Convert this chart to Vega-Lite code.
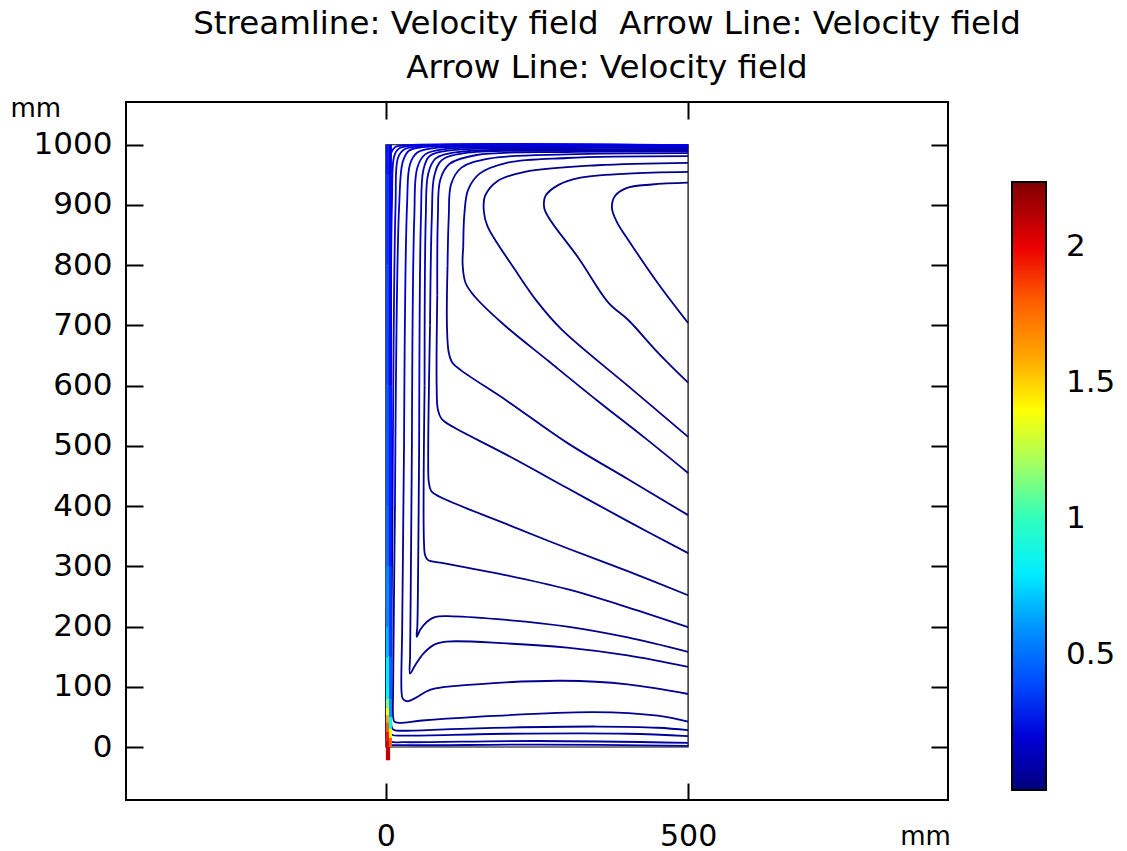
{
  "$schema": "https://vega.github.io/schema/vega-lite/v6.json",
  "width": 822,
  "height": 698,
  "autosize": {"type": "none"},
  "padding": {"left": 126, "top": 102, "right": 179, "bottom": 51},
  "background": "white",
  "title": {
    "text": ["Streamline: Velocity field\u00a0 Arrow Line: Velocity field", "Arrow Line: Velocity field"],
    "font": "DejaVu Sans", "fontSize": 32.5, "fontWeight": "normal", "color": "black",
    "anchor": "middle", "frame": "group", "dx": 70, "dy": 32, "offset": 10, "lineHeight": 44, "baseline": "bottom"
  },
  "config": {
    "view": {"stroke": "black", "strokeWidth": 2},
    "font": "DejaVu Sans",
    "axis": {"labelFont": "DejaVu Sans", "titleFont": "DejaVu Sans", "labelColor": "black", "titleColor": "black", "tickColor": "black", "grid": false, "domain": false}
  },
  "datasets": {
    "outline": [{"x0": 0, "x1": 500, "y0": 0, "y1": 1000}],
    "jet": [
      {"x0": 0, "x1": 5, "y0": 950, "y1": 1000, "v": 0.3},
      {"x0": 0, "x1": 5, "y0": 800, "y1": 950, "v": 0.35},
      {"x0": 0, "x1": 5, "y0": 600, "y1": 800, "v": 0.4},
      {"x0": 0, "x1": 5, "y0": 400, "y1": 600, "v": 0.45},
      {"x0": 0, "x1": 5, "y0": 300, "y1": 400, "v": 0.5},
      {"x0": 0, "x1": 5, "y0": 200, "y1": 300, "v": 0.58},
      {"x0": 0, "x1": 5, "y0": 150, "y1": 200, "v": 0.68},
      {"x0": 0, "x1": 5, "y0": 100, "y1": 150, "v": 0.8},
      {"x0": 0, "x1": 5, "y0": 80, "y1": 100, "v": 0.95},
      {"x0": 0, "x1": 5, "y0": 65, "y1": 80, "v": 1.15},
      {"x0": 0, "x1": 5, "y0": 52, "y1": 65, "v": 1.4},
      {"x0": 0, "x1": 5, "y0": 40, "y1": 52, "v": 1.6},
      {"x0": 0, "x1": 5, "y0": 25, "y1": 40, "v": 1.8},
      {"x0": 0, "x1": 5, "y0": 10, "y1": 25, "v": 1.95},
      {"x0": 0, "x1": 5, "y0": 0, "y1": 10, "v": 2.05},
      {"x0": 5, "x1": 10, "y0": 950, "y1": 1000, "v": 0.22},
      {"x0": 5, "x1": 10, "y0": 600, "y1": 950, "v": 0.25},
      {"x0": 5, "x1": 10, "y0": 300, "y1": 600, "v": 0.3},
      {"x0": 5, "x1": 10, "y0": 150, "y1": 300, "v": 0.35},
      {"x0": 5, "x1": 10, "y0": 80, "y1": 150, "v": 0.45},
      {"x0": 5, "x1": 10, "y0": 50, "y1": 80, "v": 0.6},
      {"x0": 5, "x1": 10, "y0": 30, "y1": 50, "v": 0.9},
      {"x0": 5, "x1": 10, "y0": 15, "y1": 30, "v": 1.4},
      {"x0": 5, "x1": 10, "y0": 0, "y1": 15, "v": 1.8},
      {"x0": 0, "x1": 7, "y0": -22, "y1": 0, "v": 2.1}
    ],
    "lines": [
      {"s":"L1","o":0,"x":500,"y":704,"v":0.03},{"s":"L1","o":1,"x":450,"y":770,"v":0.03},{"s":"L1","o":2,"x":401,"y":842,"v":0.03},{"s":"L1","o":3,"x":382,"y":872,"v":0.03},{"s":"L1","o":4,"x":374,"y":895,"v":0.03},{"s":"L1","o":5,"x":379,"y":915,"v":0.03},{"s":"L1","o":6,"x":398,"y":928,"v":0.03},{"s":"L1","o":7,"x":440,"y":934,"v":0.03},{"s":"L1","o":8,"x":500,"y":937,"v":0.03},
      {"s":"L2","o":0,"x":500,"y":955,"v":0.03},{"s":"L2","o":1,"x":400,"y":952,"v":0.03},{"s":"L2","o":2,"x":320,"y":945,"v":0.03},{"s":"L2","o":3,"x":285,"y":933,"v":0.03},{"s":"L2","o":4,"x":264,"y":915,"v":0.03},{"s":"L2","o":5,"x":262,"y":895,"v":0.03},{"s":"L2","o":6,"x":270,"y":878,"v":0.03},{"s":"L2","o":7,"x":320,"y":810,"v":0.03},{"s":"L2","o":8,"x":368,"y":738,"v":0.03},{"s":"L2","o":9,"x":401,"y":709,"v":0.03},{"s":"L2","o":10,"x":450,"y":655,"v":0.03},{"s":"L2","o":11,"x":500,"y":605,"v":0.03},
      {"s":"L3","o":0,"x":500,"y":970,"v":0.03},{"s":"L3","o":1,"x":350,"y":966,"v":0.03},{"s":"L3","o":2,"x":230,"y":955,"v":0.03},{"s":"L3","o":3,"x":185,"y":940,"v":0.03},{"s":"L3","o":4,"x":164,"y":915,"v":0.03},{"s":"L3","o":5,"x":162,"y":890,"v":0.03},{"s":"L3","o":6,"x":168,"y":865,"v":0.03},{"s":"L3","o":7,"x":214,"y":792,"v":0.03},{"s":"L3","o":8,"x":250,"y":740,"v":0.03},{"s":"L3","o":9,"x":291,"y":693,"v":0.03},{"s":"L3","o":10,"x":400,"y":600,"v":0.03},{"s":"L3","o":11,"x":500,"y":515,"v":0.03},
      {"s":"L4a","o":0,"x":500,"y":981,"v":0.07},{"s":"L4a","o":1,"x":300,"y":978,"v":0.07},{"s":"L4a","o":2,"x":200,"y":970,"v":0.07},{"s":"L4a","o":3,"x":155,"y":952,"v":0.07},{"s":"L4a","o":4,"x":136,"y":925,"v":0.07},{"s":"L4a","o":5,"x":130,"y":887,"v":0.07},{"s":"L4a","o":6,"x":128,"y":830,"v":0.07},
      {"s":"L4b","o":0,"x":128,"y":830,"v":0.03},{"s":"L4b","o":1,"x":127,"y":800,"v":0.03},{"s":"L4b","o":2,"x":132,"y":770,"v":0.03},{"s":"L4b","o":3,"x":147,"y":748,"v":0.03},{"s":"L4b","o":4,"x":192,"y":704,"v":0.03},{"s":"L4b","o":5,"x":270,"y":640,"v":0.03},{"s":"L4b","o":6,"x":350,"y":575,"v":0.03},{"s":"L4b","o":7,"x":430,"y":512,"v":0.03},{"s":"L4b","o":8,"x":500,"y":455,"v":0.03},
      {"s":"L5a","o":0,"x":500,"y":986,"v":0.1},{"s":"L5a","o":1,"x":300,"y":984,"v":0.1},{"s":"L5a","o":2,"x":170,"y":977,"v":0.1},{"s":"L5a","o":3,"x":125,"y":962,"v":0.1},{"s":"L5a","o":4,"x":108,"y":935,"v":0.1},{"s":"L5a","o":5,"x":104,"y":880,"v":0.1},{"s":"L5a","o":6,"x":102,"y":800,"v":0.1},
      {"s":"L5b","o":0,"x":102,"y":800,"v":0.04},{"s":"L5b","o":1,"x":101,"y":700,"v":0.04},{"s":"L5b","o":2,"x":104,"y":655,"v":0.04},{"s":"L5b","o":3,"x":110,"y":638,"v":0.04},{"s":"L5b","o":4,"x":125,"y":625,"v":0.04},{"s":"L5b","o":5,"x":200,"y":575,"v":0.04},{"s":"L5b","o":6,"x":300,"y":505,"v":0.04},{"s":"L5b","o":7,"x":400,"y":445,"v":0.04},{"s":"L5b","o":8,"x":500,"y":385,"v":0.04},
      {"s":"L6a","o":0,"x":500,"y":989,"v":0.1},{"s":"L6a","o":1,"x":300,"y":988,"v":0.1},{"s":"L6a","o":2,"x":150,"y":983,"v":0.1},{"s":"L6a","o":3,"x":105,"y":968,"v":0.1},{"s":"L6a","o":4,"x":90,"y":942,"v":0.1},{"s":"L6a","o":5,"x":86,"y":880,"v":0.1},{"s":"L6a","o":6,"x":85,"y":750,"v":0.1},
      {"s":"L6b","o":0,"x":85,"y":750,"v":0.04},{"s":"L6b","o":1,"x":84,"y":600,"v":0.04},{"s":"L6b","o":2,"x":86,"y":560,"v":0.04},{"s":"L6b","o":3,"x":92,"y":545,"v":0.04},{"s":"L6b","o":4,"x":105,"y":535,"v":0.04},{"s":"L6b","o":5,"x":200,"y":485,"v":0.04},{"s":"L6b","o":6,"x":300,"y":430,"v":0.04},{"s":"L6b","o":7,"x":400,"y":375,"v":0.04},{"s":"L6b","o":8,"x":500,"y":322,"v":0.04},
      {"s":"L7a","o":0,"x":500,"y":991,"v":0.12},{"s":"L7a","o":1,"x":300,"y":990,"v":0.12},{"s":"L7a","o":2,"x":130,"y":986,"v":0.12},{"s":"L7a","o":3,"x":92,"y":974,"v":0.12},{"s":"L7a","o":4,"x":80,"y":948,"v":0.12},{"s":"L7a","o":5,"x":76,"y":880,"v":0.12},{"s":"L7a","o":6,"x":73,"y":700,"v":0.12},
      {"s":"L7b","o":0,"x":73,"y":700,"v":0.04},{"s":"L7b","o":1,"x":70,"y":480,"v":0.04},{"s":"L7b","o":2,"x":71,"y":440,"v":0.04},{"s":"L7b","o":3,"x":75,"y":425,"v":0.04},{"s":"L7b","o":4,"x":90,"y":415,"v":0.04},{"s":"L7b","o":5,"x":200,"y":370,"v":0.04},{"s":"L7b","o":6,"x":300,"y":330,"v":0.04},{"s":"L7b","o":7,"x":400,"y":292,"v":0.04},{"s":"L7b","o":8,"x":500,"y":252,"v":0.04},
      {"s":"L8a","o":0,"x":500,"y":993,"v":0.12},{"s":"L8a","o":1,"x":300,"y":992,"v":0.12},{"s":"L8a","o":2,"x":120,"y":988,"v":0.12},{"s":"L8a","o":3,"x":82,"y":977,"v":0.12},{"s":"L8a","o":4,"x":70,"y":952,"v":0.12},{"s":"L8a","o":5,"x":66,"y":880,"v":0.12},{"s":"L8a","o":6,"x":64,"y":600,"v":0.12},
      {"s":"L8b","o":0,"x":64,"y":600,"v":0.04},{"s":"L8b","o":1,"x":63,"y":340,"v":0.04},{"s":"L8b","o":2,"x":65,"y":318,"v":0.04},{"s":"L8b","o":3,"x":70,"y":310,"v":0.04},{"s":"L8b","o":4,"x":90,"y":306,"v":0.04},{"s":"L8b","o":5,"x":200,"y":285,"v":0.04},{"s":"L8b","o":6,"x":300,"y":262,"v":0.04},{"s":"L8b","o":7,"x":400,"y":232,"v":0.04},{"s":"L8b","o":8,"x":500,"y":199,"v":0.04},
      {"s":"V1a","o":0,"x":500,"y":995,"v":0.14},{"s":"V1a","o":1,"x":300,"y":994.5,"v":0.14},{"s":"V1a","o":2,"x":110,"y":991,"v":0.14},{"s":"V1a","o":3,"x":72,"y":981,"v":0.14},{"s":"V1a","o":4,"x":62,"y":958,"v":0.14},{"s":"V1a","o":5,"x":58,"y":880,"v":0.14},{"s":"V1a","o":6,"x":55,"y":500,"v":0.14},
      {"s":"V1b","o":0,"x":55,"y":500,"v":0.04},{"s":"V1b","o":1,"x":53,"y":260,"v":0.04},{"s":"V1b","o":2,"x":52,"y":200,"v":0.04},{"s":"V1b","o":3,"x":51,"y":183,"v":0.04},{"s":"V1b","o":4,"x":57,"y":195,"v":0.04},{"s":"V1b","o":5,"x":68,"y":208,"v":0.04},{"s":"V1b","o":6,"x":82,"y":216,"v":0.04},{"s":"V1b","o":7,"x":110,"y":217,"v":0.04},{"s":"V1b","o":8,"x":200,"y":211,"v":0.04},{"s":"V1b","o":9,"x":300,"y":200,"v":0.04},{"s":"V1b","o":10,"x":400,"y":182,"v":0.04},{"s":"V1b","o":11,"x":500,"y":158,"v":0.04},
      {"s":"V2a","o":0,"x":500,"y":996.5,"v":0.15},{"s":"V2a","o":1,"x":300,"y":996,"v":0.15},{"s":"V2a","o":2,"x":100,"y":993,"v":0.15},{"s":"V2a","o":3,"x":65,"y":984,"v":0.15},{"s":"V2a","o":4,"x":52,"y":962,"v":0.15},{"s":"V2a","o":5,"x":47,"y":880,"v":0.15},{"s":"V2a","o":6,"x":43,"y":500,"v":0.15},
      {"s":"V2b","o":0,"x":43,"y":500,"v":0.04},{"s":"V2b","o":1,"x":41,"y":250,"v":0.04},{"s":"V2b","o":2,"x":40,"y":150,"v":0.04},{"s":"V2b","o":3,"x":40,"y":122,"v":0.04},{"s":"V2b","o":4,"x":48,"y":135,"v":0.04},{"s":"V2b","o":5,"x":62,"y":155,"v":0.04},{"s":"V2b","o":6,"x":80,"y":170,"v":0.04},{"s":"V2b","o":7,"x":100,"y":175,"v":0.04},{"s":"V2b","o":8,"x":200,"y":172,"v":0.04},{"s":"V2b","o":9,"x":300,"y":165,"v":0.04},{"s":"V2b","o":10,"x":400,"y":152,"v":0.04},{"s":"V2b","o":11,"x":500,"y":133,"v":0.04},
      {"s":"L9a","o":0,"x":500,"y":997.5,"v":0.16},{"s":"L9a","o":1,"x":300,"y":997,"v":0.16},{"s":"L9a","o":2,"x":80,"y":994.5,"v":0.16},{"s":"L9a","o":3,"x":52,"y":987,"v":0.16},{"s":"L9a","o":4,"x":40,"y":968,"v":0.16},{"s":"L9a","o":5,"x":35,"y":900,"v":0.16},{"s":"L9a","o":6,"x":30,"y":500,"v":0.16},
      {"s":"L9b","o":0,"x":30,"y":500,"v":0.05},{"s":"L9b","o":1,"x":27,"y":200,"v":0.05},{"s":"L9b","o":2,"x":26,"y":90,"v":0.05},{"s":"L9b","o":3,"x":28,"y":80,"v":0.05},{"s":"L9b","o":4,"x":35,"y":76,"v":0.05},{"s":"L9b","o":5,"x":50,"y":82,"v":0.05},{"s":"L9b","o":6,"x":73,"y":95,"v":0.05},{"s":"L9b","o":7,"x":150,"y":104,"v":0.05},{"s":"L9b","o":8,"x":293,"y":110,"v":0.05},{"s":"L9b","o":9,"x":400,"y":104,"v":0.05},{"s":"L9b","o":10,"x":500,"y":88,"v":0.05},
      {"s":"B1a","o":0,"x":500,"y":998.5,"v":0.18},{"s":"B1a","o":1,"x":300,"y":998,"v":0.18},{"s":"B1a","o":2,"x":60,"y":996,"v":0.18},{"s":"B1a","o":3,"x":38,"y":990,"v":0.18},{"s":"B1a","o":4,"x":28,"y":972,"v":0.18},{"s":"B1a","o":5,"x":22,"y":900,"v":0.18},{"s":"B1a","o":6,"x":15,"y":400,"v":0.18},
      {"s":"B1b","o":0,"x":15,"y":400,"v":0.05},{"s":"B1b","o":1,"x":12,"y":100,"v":0.05},{"s":"B1b","o":2,"x":12,"y":50,"v":0.05},{"s":"B1b","o":3,"x":14,"y":42,"v":0.05},{"s":"B1b","o":4,"x":22,"y":40,"v":0.05},{"s":"B1b","o":5,"x":60,"y":44,"v":0.05},{"s":"B1b","o":6,"x":150,"y":50,"v":0.05},{"s":"B1b","o":7,"x":343,"y":58,"v":0.05},{"s":"B1b","o":8,"x":450,"y":52,"v":0.05},{"s":"B1b","o":9,"x":500,"y":42,"v":0.05},
      {"s":"B2a","o":0,"x":500,"y":999,"v":0.2},{"s":"B2a","o":1,"x":300,"y":998.8,"v":0.2},{"s":"B2a","o":2,"x":50,"y":997,"v":0.2},{"s":"B2a","o":3,"x":30,"y":992,"v":0.2},{"s":"B2a","o":4,"x":20,"y":978,"v":0.2},{"s":"B2a","o":5,"x":16,"y":900,"v":0.2},{"s":"B2a","o":6,"x":11,"y":400,"v":0.2},
      {"s":"B2b","o":0,"x":11,"y":400,"v":0.06},{"s":"B2b","o":1,"x":9,"y":80,"v":0.06},{"s":"B2b","o":2,"x":10,"y":32,"v":0.06},{"s":"B2b","o":3,"x":14,"y":28,"v":0.06},{"s":"B2b","o":4,"x":30,"y":27,"v":0.06},{"s":"B2b","o":5,"x":150,"y":31,"v":0.06},{"s":"B2b","o":6,"x":350,"y":34,"v":0.06},{"s":"B2b","o":7,"x":450,"y":32,"v":0.06},{"s":"B2b","o":8,"x":500,"y":28,"v":0.06},
      {"s":"B3a","o":0,"x":500,"y":999.3,"v":0.22},{"s":"B3a","o":1,"x":40,"y":998,"v":0.22},{"s":"B3a","o":2,"x":22,"y":994,"v":0.22},{"s":"B3a","o":3,"x":14,"y":982,"v":0.22},{"s":"B3a","o":4,"x":10,"y":900,"v":0.22},{"s":"B3a","o":5,"x":8,"y":400,"v":0.22},
      {"s":"B3b","o":0,"x":8,"y":400,"v":0.07},{"s":"B3b","o":1,"x":7,"y":60,"v":0.07},{"s":"B3b","o":2,"x":7,"y":24,"v":0.07},{"s":"B3b","o":3,"x":11,"y":20,"v":0.07},{"s":"B3b","o":4,"x":30,"y":19,"v":0.07},{"s":"B3b","o":5,"x":200,"y":22,"v":0.07},{"s":"B3b","o":6,"x":400,"y":22,"v":0.07},{"s":"B3b","o":7,"x":500,"y":18,"v":0.07},
      {"s":"B4a","o":0,"x":500,"y":999.6,"v":0.25},{"s":"B4a","o":1,"x":30,"y":999,"v":0.25},{"s":"B4a","o":2,"x":15,"y":996,"v":0.25},{"s":"B4a","o":3,"x":8,"y":985,"v":0.25},{"s":"B4a","o":4,"x":6,"y":900,"v":0.25},{"s":"B4a","o":5,"x":5,"y":400,"v":0.25},
      {"s":"B4b","o":0,"x":5,"y":400,"v":0.08},{"s":"B4b","o":1,"x":4,"y":15,"v":0.08},{"s":"B4b","o":2,"x":8,"y":9,"v":0.08},{"s":"B4b","o":3,"x":30,"y":8,"v":0.08},{"s":"B4b","o":4,"x":250,"y":10,"v":0.08},{"s":"B4b","o":5,"x":500,"y":7,"v":0.08},
      {"s":"B5","o":0,"x":4,"y":200,"v":0.1},{"s":"B5","o":1,"x":3,"y":6,"v":0.1},{"s":"B5","o":2,"x":6,"y":4,"v":0.1},{"s":"B5","o":3,"x":30,"y":3,"v":0.1},{"s":"B5","o":4,"x":250,"y":4,"v":0.1},{"s":"B5","o":5,"x":500,"y":2,"v":0.1}
    ]
  },
  "layer": [
    {
      "data": {"name": "outline"},
      "mark": {"type": "rect", "filled": false, "stroke": "black", "strokeWidth": 1.2},
      "encoding": {
        "x": {"field": "x0", "type": "quantitative", "scale": {"domain": [-430, 930], "nice": false, "zero": false},
          "axis": {"orient": "bottom", "values": [0, 500], "tickSize": -17, "tickWidth": 2, "labelPadding": 38, "labelFontSize": 30, "labelFlush": false,
            "title": "mm", "titleFontSize": 26, "titleFontWeight": "normal", "titleX": 799, "titleY": 44, "titleAlign": "center", "titleBaseline": "alphabetic"}},
        "x2": {"field": "x1"},
        "y": {"field": "y0", "type": "quantitative", "scale": {"domain": [-88, 1071], "nice": false, "zero": false},
          "axis": {"orient": "left", "values": [0, 100, 200, 300, 400, 500, 600, 700, 800, 900, 1000], "format": "d", "tickSize": -17, "tickWidth": 2, "labelPadding": 31, "labelFontSize": 31, "labelFlush": false,
            "title": "mm", "titleFontSize": 26, "titleFontWeight": "normal", "titleAngle": 0, "titleX": -116, "titleY": 14, "titleAlign": "left", "titleBaseline": "alphabetic"}},
        "y2": {"field": "y1"}
      }
    },
    {
      "data": {"name": "lines"},
      "mark": {"type": "line", "strokeWidth": 1.8, "interpolate": "catmull-rom"},
      "encoding": {
        "x": {"field": "x", "type": "quantitative", "scale": {"domain": [-430, 930], "nice": false, "zero": false},
          "axis": {"orient": "top", "values": [0, 500], "tickSize": -17, "tickWidth": 2, "labels": false, "title": null}},
        "y": {"field": "y", "type": "quantitative", "scale": {"domain": [-88, 1071], "nice": false, "zero": false},
          "axis": {"orient": "right", "values": [0, 100, 200, 300, 400, 500, 600, 700, 800, 900, 1000], "tickSize": -17, "tickWidth": 2, "labels": false, "title": null}},
        "detail": {"field": "s"},
        "order": {"field": "o"},
        "stroke": {"field": "v", "type": "quantitative", "legend": null,
          "scale": {"domain": [0.0041, 2.2401], "range": ["#00007F", "#0000FF", "#007FFF", "#00FFFF", "#7FFF7F", "#FFFF00", "#FF7F00", "#FF0000", "#7F0000"]}}
      }
    },
    {
      "data": {"name": "jet"},
      "mark": {"type": "rect"},
      "encoding": {
        "x": {"field": "x0", "type": "quantitative", "scale": {"domain": [-430, 930], "nice": false, "zero": false}, "axis": null},
        "x2": {"field": "x1"},
        "y": {"field": "y0", "type": "quantitative", "scale": {"domain": [-88, 1071], "nice": false, "zero": false}, "axis": null},
        "y2": {"field": "y1"},
        "color": {"field": "v", "type": "quantitative",
          "scale": {"domain": [0.004, 2.24], "range": ["#00007F", "#0000FF", "#007FFF", "#00FFFF", "#7FFF7F", "#FFFF00", "#FF7F00", "#FF0000", "#7F0000"]},
          "legend": {"type": "gradient", "orient": "none", "legendX": 886, "legendY": 80, "direction": "vertical", "gradientLength": 608, "gradientThickness": 34,
            "gradientStrokeColor": "black", "gradientStrokeWidth": 2, "values": [0.5, 1, 1.5, 2], "format": "~g", "title": null,
            "labelFontSize": 31, "labelFont": "DejaVu Sans", "labelColor": "black", "labelOffset": 20, "labelOverlap": false}}
      }
    }
  ],
  "resolve": {"axis": {"x": "independent", "y": "independent"}}
}
